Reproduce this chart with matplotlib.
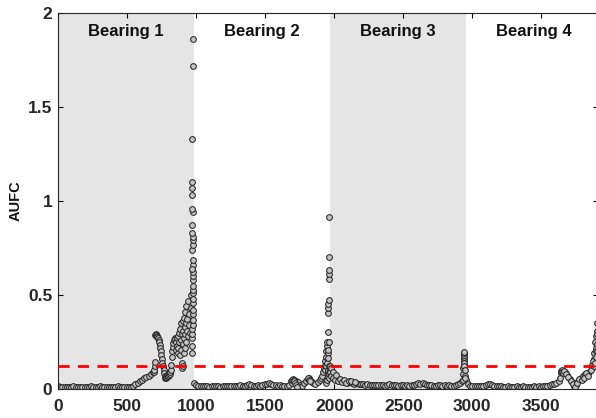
import numpy as np
import matplotlib
matplotlib.use("Agg")
import matplotlib.pyplot as plt

plt.rcParams['font.family'] = ['Liberation Sans', 'DejaVu Sans']
plt.rcParams['font.weight'] = 'bold'

# ---- data ----
seg_len = 984
bearing_names = ["Bearing 1", "Bearing 2", "Bearing 3", "Bearing 4"]
threshold = 0.12
step = 16

# bearing 1: regular samples from 0, then detail points
b1_base = [0.015, 0.012, 0.010, 0.013, 0.011, 0.009, 0.012, 0.014, 0.010, 0.011,
           0.013, 0.009, 0.012, 0.010, 0.011, 0.014, 0.012, 0.010, 0.013, 0.015,
           0.011, 0.012, 0.010, 0.013, 0.011, 0.009, 0.012, 0.014, 0.011, 0.010,
           0.012, 0.011, 0.010, 0.012, 0.018, 0.026, 0.034, 0.042, 0.050, 0.057,
           0.064, 0.071, 0.079, 0.088]
b1_det_x = [696, 698, 700, 701, 704, 708, 712, 716, 720, 724, 728, 732, 736, 740,
            744, 748, 752, 756, 760, 764, 768, 772, 776, 780, 784, 788, 792, 796,
            800, 804, 808, 812, 816, 820, 824, 828, 832, 836, 840, 844, 848,
            852, 856, 860, 864, 866, 870, 872, 876, 878, 882, 884, 888, 890, 892,
            896, 898, 900, 902, 904, 906, 908, 910, 912, 914, 916, 918, 920, 922,
            924, 926, 930, 932, 936, 940, 944, 948, 952, 956, 960, 964]
b1_det_y = [0.092, 0.10, 0.125, 0.145, 0.285, 0.29, 0.285, 0.28, 0.275, 0.27, 0.26,
            0.25, 0.235, 0.22, 0.20, 0.18, 0.16, 0.14, 0.12, 0.10, 0.085, 0.07,
            0.06, 0.058, 0.062, 0.07, 0.075, 0.07, 0.068, 0.072, 0.08, 0.09, 0.10,
            0.13, 0.17, 0.20, 0.225, 0.245, 0.26, 0.27, 0.265,
            0.25, 0.21, 0.27, 0.23, 0.19, 0.28, 0.22, 0.30, 0.25, 0.18, 0.32, 0.26,
            0.21, 0.35, 0.29, 0.14, 0.11, 0.12, 0.24, 0.36, 0.31, 0.27, 0.19, 0.38,
            0.33, 0.22, 0.41, 0.29, 0.35, 0.25, 0.44, 0.31, 0.37, 0.28, 0.47, 0.34,
            0.40, 0.30, 0.50, 0.43]
b1_spike_x = [968, 970, 971, 972, 973, 974, 975, 976, 976, 977, 977, 978, 976,
              975, 974, 976, 977, 975, 974, 973, 976, 975, 974, 973, 972, 974,
              973, 972, 971, 970, 969, 968, 975, 976]
b1_spike_y = [0.19, 0.23, 0.27, 0.29, 0.32, 0.34, 0.367, 0.40, 0.42, 0.457, 0.48,
              0.51, 0.527, 0.55, 0.58, 0.60, 0.624, 0.66, 0.686, 0.74, 0.766,
              0.79, 0.81, 0.83, 0.87, 0.94, 0.96, 1.03, 1.07, 1.10, 1.33, 0.64,
              1.72, 1.86]

# bearing 2
b2_base = [0.030, 0.022, 0.018, 0.015, 0.016, 0.014, 0.016, 0.013, 0.015, 0.017,
           0.014, 0.016, 0.013, 0.015, 0.017, 0.014, 0.016, 0.015, 0.018, 0.014,
           0.016, 0.019, 0.015, 0.017, 0.020, 0.024, 0.021, 0.018, 0.016, 0.019,
           0.017, 0.020, 0.024, 0.028, 0.030, 0.026, 0.022, 0.019, 0.018, 0.020,
           0.017, 0.016, 0.018, 0.022, 0.045, 0.050, 0.042, 0.035, 0.020, 0.015,
           0.030, 0.050, 0.058, 0.045, 0.030, 0.025, 0.035, 0.050]
b2_det_x = [1692, 1696, 1700, 1708, 1712, 1716, 1724, 1728, 1796, 1808, 1812,
            1820, 1824,
            1904, 1912, 1920, 1926, 1930, 1934, 1936, 1940, 1942, 1944, 1946, 1948,
            1950, 1952, 1954, 1956, 1957, 1958, 1959, 1960, 1960, 1961, 1961, 1962,
            1958, 1956, 1962, 1944, 1948, 1952, 1956, 1958, 1960, 1962, 1964, 1966]
b2_det_y = [0.030, 0.048, 0.052, 0.047, 0.040, 0.030, 0.020, 0.012, 0.040, 0.055,
            0.060, 0.050, 0.040,
            0.06, 0.07, 0.09, 0.11, 0.13, 0.10, 0.15, 0.12, 0.17, 0.20, 0.14, 0.23,
            0.25, 0.19, 0.305, 0.403, 0.43, 0.452, 0.473, 0.585, 0.611, 0.633,
            0.704, 0.913, 0.163, 0.21, 0.248, 0.03, 0.05, 0.07, 0.09, 0.10, 0.08,
            0.06, 0.12, 0.10]

# bearing 3
b3_base = [0.100, 0.080, 0.065, 0.055, 0.048, 0.042, 0.040, 0.036, 0.033, 0.035,
           0.030, 0.028, 0.030, 0.026, 0.024, 0.025, 0.022, 0.024, 0.021, 0.023,
           0.020, 0.022, 0.019, 0.021, 0.020, 0.018, 0.022, 0.026, 0.021, 0.019,
           0.020, 0.018, 0.021, 0.019, 0.017, 0.020, 0.018, 0.019, 0.021, 0.024,
           0.030, 0.028, 0.033, 0.025, 0.021, 0.019, 0.020, 0.018, 0.017, 0.019,
           0.021, 0.018, 0.020, 0.017, 0.019, 0.016, 0.018, 0.020, 0.025, 0.030,
           0.040]
b3_det_x = [1970, 1972, 1976, 1980, 1988, 1992, 2004, 2010, 2024, 2040, 2056,
            2072, 2088, 2104, 2120, 2150,
            2930, 2934, 2936, 2937, 2938, 2938, 2939, 2940, 2940, 2941, 2942,
            2943, 2944, 2946, 2948]
b3_det_y = [0.12, 0.09, 0.11, 0.07, 0.09, 0.06, 0.05, 0.075, 0.04, 0.055, 0.035,
            0.05, 0.03, 0.045, 0.04, 0.038,
            0.05, 0.08, 0.11, 0.13, 0.15, 0.16, 0.17, 0.18, 0.19, 0.198, 0.14,
            0.12, 0.10, 0.07, 0.06]

# bearing 4
b4_base = [0.050, 0.025, 0.018, 0.015, 0.016, 0.014, 0.017, 0.015, 0.018, 0.022,
           0.026, 0.024, 0.020, 0.017, 0.015, 0.014, 0.016, 0.013, 0.012, 0.014,
           0.011, 0.013, 0.012, 0.014, 0.011, 0.012, 0.014, 0.012, 0.011, 0.013,
           0.012, 0.014, 0.013, 0.015, 0.013, 0.016, 0.015, 0.018, 0.020, 0.024,
           0.028, 0.032, 0.040, 0.085, 0.095, 0.088, 0.075, 0.055, 0.035, 0.015,
           0.020, 0.045, 0.060, 0.070, 0.080, 0.075, 0.090, 0.110, 0.160, 0.220]
b4_det_x = [3636, 3644, 3648, 3652, 3660, 3664, 3680, 3696, 3712, 3728, 3744,
            3760, 3776, 3792, 3808, 3824, 3840, 3856, 3870, 3874, 3878, 3884,
            3888, 3890, 3892, 3896, 3898, 3900, 3902, 3904, 3906, 3906]
b4_det_y = [0.06, 0.095, 0.10, 0.09, 0.085, 0.095, 0.08, 0.065, 0.045, 0.025,
            0.01, 0.03, 0.055, 0.05, 0.06, 0.085, 0.07, 0.10, 0.13, 0.15, 0.12,
            0.19, 0.14, 0.25, 0.20, 0.28, 0.17, 0.31, 0.24, 0.35, 0.29, 0.20]

x_ticks = [0, 500, 1000, 1500, 2000, 2500, 3000, 3500]
y_ticks = [0, 0.5, 1, 1.5, 2]
y_tick_labels = ["0", "0.5", "1", "1.5", "2"]

# ---- assemble ----
xs, ys = [], []
for k, base in enumerate([b1_base, b2_base, b3_base, b4_base]):
    xs.append(k * seg_len + step * np.arange(len(base)))
    ys.append(np.array(base))
for dx, dy in [(b1_det_x, b1_det_y), (b1_spike_x, b1_spike_y), (b2_det_x, b2_det_y),
               (b3_det_x, b3_det_y), (b4_det_x, b4_det_y)]:
    xs.append(np.array(dx))
    ys.append(np.array(dy))
x_all = np.concatenate(xs)
y_all = np.concatenate(ys)

fig = plt.figure(figsize=(5.96, 4.18), dpi=100)
ax = fig.add_axes([58 / 596, 29 / 418, 540 / 596, 376 / 418])

# gray bands for bearing 1 and 3
for k in (0, 2):
    ax.axvspan(k * seg_len, (k + 1) * seg_len, color='#e5e5e5', zorder=0, lw=0)

ax.scatter(x_all, y_all, s=17, facecolor='#c4c4c4', edgecolor='#262626',
           linewidths=0.75, zorder=2)

ax.axhline(threshold, color='#ff0000', lw=2.0, linestyle=(0, (4, 3)), zorder=3)

for k, name in enumerate(bearing_names):
    ax.text(k * seg_len + seg_len / 2, 1.9, name, ha='center', va='center',
            fontsize=12, fontweight='bold', color='#111111')

ax.set_xlim(0, 3910)
ax.set_ylim(0, 2)
ax.set_xticks(x_ticks)
ax.set_yticks(y_ticks)
ax.set_yticklabels(y_tick_labels)
ax.tick_params(direction='in', top=True, right=True, length=3.5, width=0.8,
               labelsize=12.5, labelcolor='#262626')
ax.tick_params(axis='x', pad=7)
ax.tick_params(axis='y', pad=4)
for lab in ax.get_xticklabels() + ax.get_yticklabels():
    lab.set_fontweight('bold')
for sp in ax.spines.values():
    sp.set_linewidth(0.8)
    sp.set_color('#262626')
ax.set_ylabel("AUFC", fontsize=10.5, fontweight='bold', color='#111111', labelpad=4)

fig.savefig("out.png", dpi=100)
